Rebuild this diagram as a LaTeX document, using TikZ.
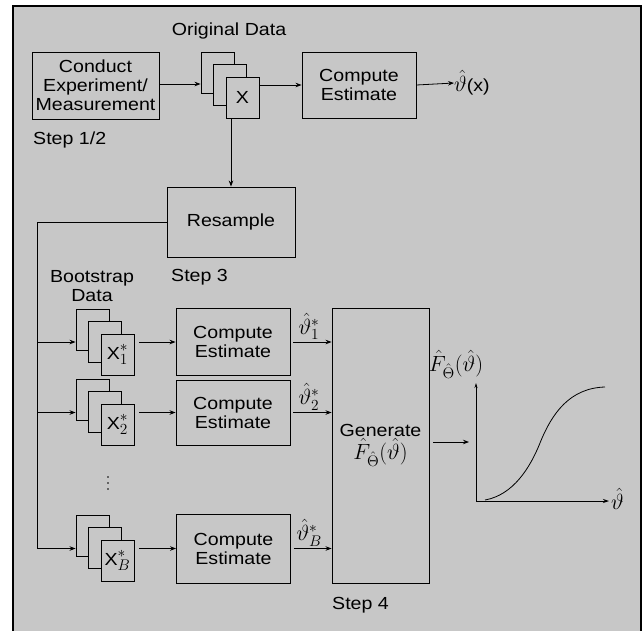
\RequirePackage{fix-cm}
\documentclass[tikz,border=0pt]{standalone}
\usepackage{fontspec}
\setmainfont{Liberation Sans}[FakeStretch=1.12]
\usetikzlibrary{arrows.meta}
\definecolor{bggray}{gray}{0.78}
\newcommand{\bigmath}[1]{{\fontsize{22}{24}\selectfont$#1$}}
\begin{document}
\begin{tikzpicture}[x=1pt,y=-1pt,
  every node/.style={font=\fontsize{17.5}{19}\selectfont,inner sep=0pt},
  blockbox/.style={draw,line width=0.9pt,fill=bggray,align=center,minimum width=114pt,minimum height=66pt},
  pagebox/.style={draw,line width=0.9pt,fill=bggray,minimum width=33pt,minimum height=41pt},
  conn/.style={line width=0.8pt,-{Stealth[length=6pt,width=4.5pt]}}]
\useasboundingbox (0,0) rectangle (643,630);
\draw[line width=1.4pt,fill=bggray] (13,631) -- (13,6) -- (641,6) -- (641,631);
% step 1/2
\node[blockbox,minimum width=127pt,minimum height=67pt] (conduct) at (95.5,85.5) {Conduct\\Experiment/\\Measurement};
\node[anchor=west] (step12) at (33,140) {Step 1/2};
\node (origlab) at (229,31) {Original Data};
\node[pagebox] (oa) at (217.5,72.5) {};
\node[pagebox] (ob) at ([shift={(12.5,12.5)}]oa) {};
\node[pagebox] (oc) at ([shift={(12.5,12.5)}]ob) {X};
\node[blockbox] (comp) at (359,85) {Compute\\Estimate};
\node[anchor=west] (thetax) at (454,83) {\bigmath{\hat{\vartheta}}(x)};
\draw[conn] (conduct.east |- 0,84) -- (oa.west |- 0,84);
\draw[conn] (oc.east |- comp.west) -- (comp.west);
\draw[conn] (comp.east) -- (thetax.west);
% step 3
\node[blockbox,minimum width=128pt,minimum height=70pt] (resample) at (231,222) {Resample};
\node[anchor=west] (step3) at (171,277) {Step 3};
\node[align=center] (bootlab) at (92,286) {Bootstrap\\Data};
\draw[conn] (oc.south -| resample) -- (resample.north);
\coordinate (bus) at (37,222);
% bootstrap samples
\foreach \n/\y/\sub in {1/329.5/1,2/399.5/2,B/535.5/B}{
  \node[pagebox] (s\n a) at (92.5,\y) {};
  \node[pagebox] (s\n b) at ([shift={(12.5,12.5)}]s\n a) {};
  \node[pagebox] (s\n c) at ([shift={(12.5,12.5)}]s\n b) {X\bigmath{^*_{\sub}}};
}
\node[blockbox,minimum height=67pt] (c1) at (233,342) {Compute\\Estimate};
\node[blockbox,minimum height=65pt] (c2) at (233,412.5) {Compute\\Estimate};
\node[blockbox,minimum height=69pt] (cB) at (233.5,548.5) {Compute\\Estimate};
% dots between the samples
\foreach \y in {477,483,489} \fill (108,\y) circle (0.9pt);
\draw[line width=0.8pt] (resample.west) -- (bus) -- (bus |- cB);
\foreach \n in {1,2,B}{
  \draw[conn] (bus |- c\n) -- (s\n a.west |- c\n);
  \draw[conn] ([xshift=5pt]s\n c.east |- c\n) -- (c\n.west);
}
% step 4
\node[draw,line width=0.9pt,fill=bggray,minimum width=97pt,minimum height=275pt,align=center] (gen) at (380.5,445.5) {Generate\\\bigmath{\hat{F}_{\hat{\Theta}}(\hat{\vartheta})}};
\node[anchor=west] (step4) at (332,605) {Step 4};
\draw[conn,shorten <=3pt] (c1.east) -- (c1.east -| gen.west) node[pos=0.45,above=2pt] (t1) {\bigmath{\hat{\vartheta}^*_1}};
\draw[conn,shorten <=3pt] (c2.east) -- (c2.east -| gen.west) node[pos=0.45,above=2pt] (t2) {\bigmath{\hat{\vartheta}^*_2}};
\draw[conn,shorten <=3pt] (cB.east) -- (cB.east -| gen.west) node[pos=0.45,above=2pt] (tB) {\bigmath{\hat{\vartheta}^*_B}};
% distribution plot
\coordinate (orig) at (476,501);
\coordinate (ytop) at (476,383);
\coordinate (xend) at (609,501);
\coordinate (plotin) at (469,442);
\draw[conn,shorten <=4pt] (gen.east |- plotin) -- (plotin);
\draw[line width=0.8pt,-{Stealth[length=5pt,width=3pt]}] (orig) -- (ytop);
\draw[line width=0.8pt,-{Stealth[length=6pt,width=4pt]}] (orig) -- (xend);
\node (flab) at (456,364) {\bigmath{\hat{F}_{\hat{\Theta}}(\hat{\vartheta})}};
\node[anchor=west] (xlab) at (611,499) {\bigmath{\hat{\vartheta}}};
\draw[line width=0.8pt] (485,500) .. controls (513,495) and (530,468) .. (540,443)
  .. controls (552,413) and (570,388) .. (605,387);
\end{tikzpicture}
\end{document}
